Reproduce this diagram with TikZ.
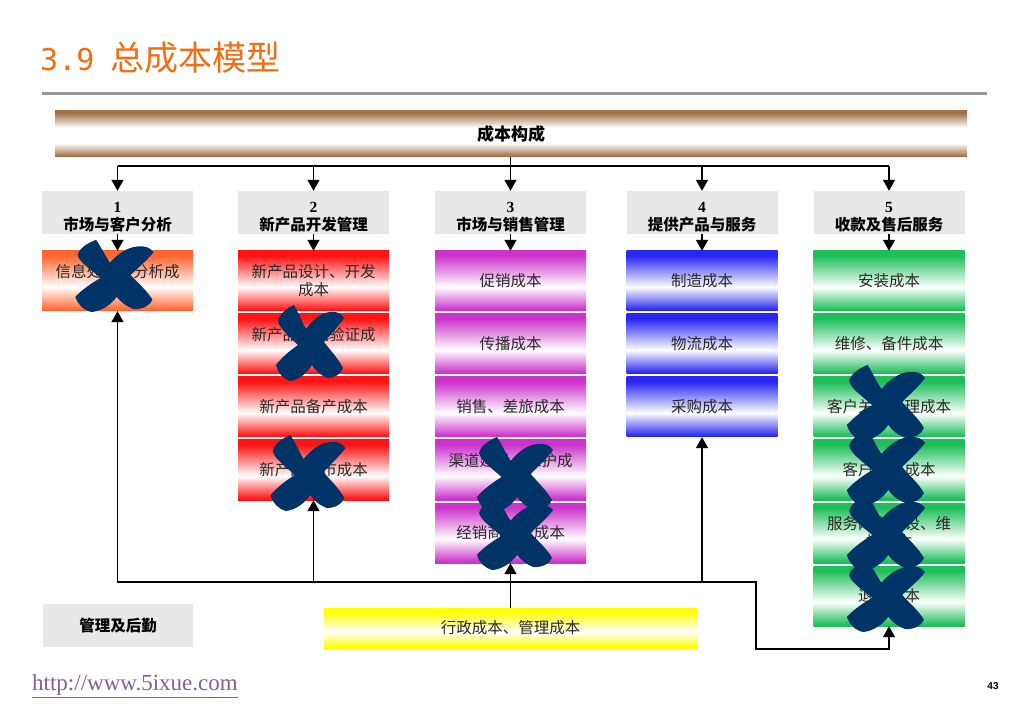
\documentclass[tikz,border=0pt]{standalone}
\usepackage{fontspec}
\setmainfont{Liberation Serif}
\setmonofont{DejaVu Sans Mono}
\newfontfamily\cjk{Noto Sans CJK SC}
\newfontfamily\pagefont{Liberation Sans}
\usetikzlibrary{arrows.meta}

\definecolor{titleorange}{RGB}{240,110,20}
\definecolor{rulegray}{RGB}{150,150,150}
\definecolor{headgray}{RGB}{232,232,232}
\definecolor{barbrown}{RGB}{160,112,72}
\definecolor{cOrange}{RGB}{255,102,51}
\definecolor{cRed}{RGB}{255,20,20}
\definecolor{cPurple}{RGB}{204,51,204}
\definecolor{cBlue}{RGB}{40,40,240}
\definecolor{cGreen}{RGB}{30,190,90}
\definecolor{cYellow}{RGB}{255,255,0}
\definecolor{boxtext}{RGB}{40,40,40}
\definecolor{xnavy}{RGB}{0,51,102}
\definecolor{urlpurple}{RGB}{128,96,150}
\colorlet{bandc}{white}

% the path covers 25bp..75bp of a shading
\pgfdeclareverticalshading[bandc]{band}{100bp}{color(0bp)=(bandc); color(26bp)=(bandc); color(45bp)=(white); color(71bp)=(bandc); color(100bp)=(bandc)}
\pgfdeclareverticalshading[bandc]{tube}{100bp}{color(0bp)=(bandc); color(26bp)=(bandc); color(40bp)=(white); color(57bp)=(white); color(73bp)=(bandc); color(100bp)=(bandc)}

\begin{document}
\begin{tikzpicture}[x=1pt,y=-1pt,
  bar/.style={shading=tube, /utils/exec={\colorlet{bandc}{barbrown}}, minimum width=912pt, minimum height=46pt, inner sep=0pt, font=\cjk\bfseries\fontsize{17}{20}\selectfont},
  headbox/.style={fill=headgray, minimum width=151pt, minimum height=43pt, inner sep=0pt, align=center, font=\cjk\bfseries\fontsize{15.5}{18}\selectfont},
  costbox/.style={shading=band, /utils/exec={\colorlet{bandc}{#1}}, minimum width=151pt, minimum height=60pt, inner sep=0pt, align=center, text=boxtext, font=\cjk\fontsize{15.5}{18}\selectfont},
  wire/.style={line width=1.3pt},
  arr/.style={wire, -{Triangle[length=11pt,width=12pt]}},
  xmark/.pic={
    \fill[xnavy] (-16,-37) .. controls (-12,-30) and (-8,-20) .. (-4,-13)
      .. controls (2,-21) and (10,-29) .. (20,-30)
      .. controls (26,-31) and (31,-29) .. (34,-24)
      .. controls (28,-15) and (20,-7) .. (14,0)
      .. controls (20,8) and (28,16) .. (33,26)
      .. controls (31,32) and (25,36) .. (17,36)
      .. controls (10,33) and (5,28) .. (2,23)
      .. controls (-3,31) and (-11,38) .. (-20,39)
      .. controls (-27,37) and (-32,31) .. (-34,23)
      .. controls (-27,14) and (-19,8) .. (-12,3)
      .. controls (-21,-6) and (-31,-14) .. (-32,-21)
      .. controls (-31,-28) and (-23,-34) .. (-16,-37) -- cycle;
  }]
  \useasboundingbox (0,0) rectangle (1023,708);

  % title and rule
  \node[anchor=west, inner sep=0pt, text=titleorange] (title) at (40,58)
    {{\ttfamily\fontsize{30}{30}\selectfont 3.9}\hspace{16pt}{\cjk\fontsize{34}{34}\selectfont 总成本模型}};
  \draw[rulegray, line width=3pt] (42,94) -- (987,94);

  % top bar
  \node[bar] (total) at (511,134) {成本构成};

  % column heads
  \node[headbox] (h1) at (117.5,212.5) {\rule{0pt}{20pt}{\rmfamily 1}\\市场与客户分析};
  \node[headbox] (h2) at (313.5,212.5) {\rule{0pt}{20pt}{\rmfamily 2}\\新产品开发管理};
  \node[headbox] (h3) at (510.5,212.5) {\rule{0pt}{20pt}{\rmfamily 3}\\市场与销售管理};
  \node[headbox] (h4) at (702,212.5) {\rule{0pt}{20pt}{\rmfamily 4}\\提供产品与服务};
  \node[headbox] (h5) at (889,212.5) {\rule{0pt}{20pt}{\rmfamily 5}\\收款及售后服务};

  % cost items
  \node[costbox=cOrange] (c11) at (117.5,281) {信息处理、分析成\\本};

  \node[costbox=cRed] (c21) at (313.5,281) {新产品设计、开发\\成本};
  \node[costbox=cRed] (c22) at (313.5,344) {新产品测试验证成\\本};
  \node[costbox=cRed] (c23) at (313.5,407) {新产品备产成本};
  \node[costbox=cRed] (c24) at (313.5,470) {新产品上市成本};

  \node[costbox=cPurple] (c31) at (510.5,281) {促销成本};
  \node[costbox=cPurple] (c32) at (510.5,344) {传播成本};
  \node[costbox=cPurple] (c33) at (510.5,407) {销售、差旅成本};
  \node[costbox=cPurple] (c34) at (510.5,470) {渠道建设、维护成\\本};
  \node[costbox=cPurple] (c35) at (510.5,533) {经销商管理成本};

  \node[costbox=cBlue] (c41) at (702,281) {制造成本};
  \node[costbox=cBlue] (c42) at (702,344) {物流成本};
  \node[costbox=cBlue] (c43) at (702,407) {采购成本};

  \node[costbox=cGreen] (c51) at (889,281) {安装成本};
  \node[costbox=cGreen] (c52) at (889,344) {维修、备件成本};
  \node[costbox=cGreen] (c53) at (889,407) {客户关系管理成本};
  \node[costbox=cGreen] (c54) at (889,470) {客户服务成本};
  \node[costbox=cGreen] (c55) at (889,533) {服务网点建设、维\\护成本};
  \node[costbox=cGreen] (c56) at (889,596) {退货成本};

  % support
  \node[headbox, minimum width=150pt] (mgmt) at (118,625.5) {管理及后勤};
  \node[costbox=cYellow, minimum width=373pt, minimum height=40pt] (admin) at (510.5,628) {行政成本、管理成本};

  % top connectors
  \coordinate (split) at (510.5,166);
  \draw[wire] (total.south -| split) -- (split);
  \draw[wire] (h1.north |- split) -- (h5.north |- split);
  \draw[arr] (h1.north |- split) -- (h1.north);
  \draw[arr] (h2.north |- split) -- (h2.north);
  \draw[arr] (h3.north |- split) -- (h3.north);
  \draw[arr] (h4.north |- split) -- (h4.north);
  \draw[arr] (h5.north |- split) -- (h5.north);
  \draw[arr] (h1.south) -- (c11.north);
  \draw[arr] (h2.south) -- (c21.north);
  \draw[arr] (h3.south) -- (c31.north);
  \draw[arr] (h4.south) -- (c41.north);
  \draw[arr] (h5.south) -- (c51.north);

  % bottom connectors
  \coordinate (hub) at (510.5,582);
  \coordinate (detour) at (756,649);
  \draw[arr] (admin.north) -- (c35.south);
  \draw[arr] (hub) -| (c11.south);
  \draw[arr] (hub) -| (c24.south);
  \draw[arr] (hub) -| (c43.south);
  \draw[arr] (hub) -| (detour) -| (c56.south);

  % crossed out items
  \pic[xscale=1.15, yscale=0.95] at (114.5,275) {xmark};
  \pic at (310,342) {xmark};
  \pic[xscale=1.1] at (308,472) {xmark};
  \pic[xscale=1.12] at (515,474) {xmark};
  \pic[xscale=1.12, yscale=0.95] at (515,533) {xmark};
  \pic[xscale=1.15] at (886,402) {xmark};
  \pic[xscale=1.15] at (886,467) {xmark};
  \pic[xscale=1.15] at (886,532) {xmark};
  \pic[xscale=1.15, yscale=0.95] at (886,595) {xmark};

  % footer
  \node[anchor=west, inner sep=0pt, text=urlpurple, font=\rmfamily\fontsize{23}{23}\selectfont] (url) at (32,686) {\underline{http://www.5ixue.com}};
  \node[inner sep=0pt, font=\pagefont\bfseries\fontsize{10}{10}\selectfont] (pageno) at (993,686) {43};
\end{tikzpicture}
\end{document}
